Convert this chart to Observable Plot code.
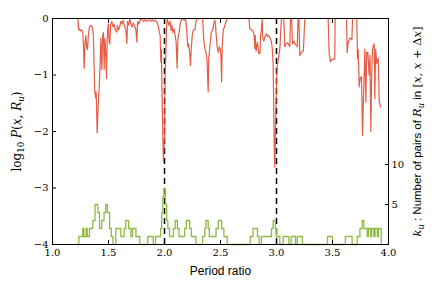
<!DOCTYPE html>
<html><head><meta charset="utf-8">
<script src="https://cdn.jsdelivr.net/npm/d3@7"></script>
<script src="https://cdn.jsdelivr.net/npm/@observablehq/plot@0.6"></script>
<style>body{margin:0;background:#fff}</style>
</head><body><div id="chart"></div>
<script>
// log10 P(x, R_u) curve
const redX = [1.228,1.232,1.24,1.25,1.26,1.27,1.275,1.283,1.29,1.298,1.305,1.313,1.32,1.33,1.342,1.355,1.365,1.372,1.378,1.385,1.39,1.395,1.399,1.405,1.411,1.418,1.425,1.432,1.44,1.448,1.455,1.461,1.468,1.475,1.482,1.488,1.495,1.50,1.505,1.512,1.52,1.53,1.54,1.55,1.56,1.574,1.58,1.59,1.60,1.61,1.62,1.63,1.64,1.655,1.664,1.67,1.68,1.69,1.70,1.71,1.72,1.73,1.745,1.753,1.76,1.77,1.78,1.79,1.80,1.815,1.827,1.84,1.86,1.875,1.89,1.905,1.92,1.935,1.946,1.955,1.961,1.967,1.972,1.978,1.982,1.986,1.991,1.995,2.0,2.003,2.006,2.012,2.018,2.024,2.03,2.04,2.05,2.06,2.065,2.075,2.085,2.095,2.104,2.113,2.12,2.13,2.14,2.149,2.16,2.175,2.19,2.2,2.208,2.215,2.225,2.232,2.24,2.25,2.26,2.272,2.283,2.30,2.34,2.351,2.36,2.37,2.38,2.39,2.395,2.405,2.417,2.43,2.446,2.455,2.46,2.47,2.48,2.49,2.50,2.505,2.51,2.515,2.525,2.535,2.545,2.56,2.753,2.762,2.775,2.79,2.80,2.807,2.81,2.818,2.83,2.842,2.852,2.858,2.865,2.872,2.877,2.887,2.897,2.91,2.92,2.932,2.945,2.955,2.961,2.97,2.976,2.982,2.986,2.991,3.0,3.006,3.012,3.02,3.03,3.04,3.045,3.065,3.074,3.085,3.10,3.119,3.125,3.135,3.143,3.155,3.165,3.185,3.193,3.20,3.208,3.22,3.24,3.253,3.461,3.47,3.482,3.495,3.51,3.52,3.524,3.625,3.631,3.64,3.655,3.665,3.673,3.679,3.717,3.723,3.73,3.738,3.748,3.759,3.768,3.775,3.783,3.789,3.798,3.805,3.815,3.827,3.835,3.842,3.85,3.857,3.865,3.872,3.878,3.885,3.896,3.908,3.917,3.926,3.929];
const redY = [0,-0.2,-0.18,-0.22,-0.2,-0.25,-0.4,-0.88,-0.45,-0.3,-0.5,-0.55,-0.3,-0.15,-0.12,-0.15,-0.3,-0.9,-1.3,-1.4,-1.3,-1.7,-2.02,-1.7,-1.42,-1.2,-0.8,-0.35,-0.9,-0.3,-0.25,-0.9,-0.35,-0.6,-1.06,-0.4,-0.15,-0.1,-0.4,-0.45,-0.1,-0.05,-0.15,-0.1,-0.2,-0.24,-0.12,-0.2,-0.15,-0.05,-0.1,-0.03,-0.12,-0.2,-0.44,-0.05,-0.12,0,-0.1,-0.15,-0.08,-0.12,-0.2,-0.42,-0.05,-0.1,-0.05,0,-0.02,-0.05,-0.02,-0.05,-0.02,-0.05,-0.02,-0.05,-0.03,-0.08,-0.15,-0.25,-0.3,-0.77,-0.55,-1.3,-1.72,-2.19,-2.54,-2.3,-2.1,-1.5,-1.0,-0.6,-0.15,0,-0.05,-0.12,-0.05,-0.21,-0.12,-0.25,-0.18,-0.3,-0.42,-0.88,-0.35,-0.25,-0.1,-0.03,0,-0.03,-0.02,-0.25,-0.5,-0.45,-0.6,-0.83,-0.5,-0.25,-0.2,-0.2,-0.03,0,0,-0.38,-0.52,-0.6,-0.72,-1.3,-0.7,-0.5,-0.25,-0.2,-0.03,-0.08,-0.25,-0.5,-0.6,-0.5,-0.55,-0.75,-1.12,-0.5,-0.2,-0.15,-0.08,0,0,-0.18,-0.2,-0.22,-0.3,-0.53,-0.3,-0.58,-0.42,-0.62,-0.62,-0.3,-0.2,0,-0.35,-0.4,-0.32,-0.27,-0.32,-0.3,-0.35,-0.42,-0.5,-0.8,-1.72,-2.54,-2.63,-1.9,-1.12,-0.86,-0.77,-0.68,-0.53,-0.15,0,0,-0.5,-0.45,-0.43,-0.5,0,0,-0.45,-0.4,-0.45,-0.5,0,0,-0.66,-0.6,-0.57,0,0,-0.6,-0.77,-0.72,-0.72,-0.72,0,0,-0.6,-0.43,-0.35,-0.35,-0.38,0,0,-0.71,-0.55,-1.21,-1.05,-1.03,-2.07,-1.5,-1.0,-0.54,-1.48,-0.6,-0.6,-1.0,-0.65,-2.0,-1.0,-0.54,-0.48,-0.45,-1.42,-0.54,-0.8,-0.7,-1.45,-1.54,-1.57];

// k_u : number of pairs in [x, x+dx] (step starts)
const greenX = [1.22,1.235,1.27,1.28,1.30,1.31,1.33,1.36,1.38,1.405,1.42,1.44,1.46,1.475,1.49,1.51,1.525,1.54,1.565,1.61,1.64,1.655,1.68,1.70,1.715,1.745,1.78,1.85,1.90,1.92,1.965,1.975,1.985,1.995,2.008,2.02,2.03,2.045,2.08,2.095,2.115,2.13,2.18,2.195,2.225,2.24,2.28,2.34,2.36,2.37,2.39,2.40,2.46,2.48,2.51,2.53,2.56,2.765,2.79,2.83,2.845,2.865,2.955,2.97,2.99,3.0,3.03,3.06,3.11,3.13,3.17,3.185,3.23,3.455,3.50,3.615,3.675,3.72,3.745,3.765,3.78,3.81,3.82,3.84,3.85,3.87,3.88,3.90,3.91,3.935];
const greenCount = [0,1,2,1,2,1,2,3,5,4,2,3,4,5,4,2,1,0,2,1,2,3,2,1,2,1,0,1,0,1,2,4,6,7,5,3,2,1,2,3,2,1,2,3,2,1,0,1,2,3,2,1,2,3,2,1,0,1,2,1,0,1,2,3,2,1,0,1,0,1,0,1,0,1,0,1,0,1,2,3,2,1,2,1,2,1,2,1,2,0];

const xTicks = [1.0,1.5,2.0,2.5,3.0,3.5,4.0];
const yTicks = [0,-1,-2,-3,-4];
const rightTicks = [5,10];
const resonances = [2,3];
const countTop = 28.25; // right-axis value at top of frame

const red = redX.map((x,i)=>({x, y: redY[i]}));
const green = greenX.map((x,i)=>({x, c: greenCount[i]}));
const toLeft = c => -4 + c*4/countTop;
const serif = "DejaVu Serif";

const chart = Plot.plot({
  width: 436, height: 291,
  marginLeft: 52, marginRight: 48, marginTop: 18, marginBottom: 47,
  x: {domain:[1,4]},
  y: {domain:[-4,0]},
  style: {background:"white"},
  marks: [
    Plot.ruleX(resonances, {x: d=>d, stroke:"black", strokeWidth:1.5, strokeDasharray:"6,4"}),
    Plot.line(green, {x:"x", y: d=>toLeft(d.c), curve:"step-after", stroke:"#8EBA42", strokeWidth:1.3}),
    Plot.line(red, {x:"x", y:"y", stroke:"#E24A33", strokeWidth:1.2, strokeOpacity:0.9}),
    Plot.frame({stroke:"black", strokeWidth:1}),
    Plot.axisX(xTicks, {anchor:"bottom", tickSize:-4, tickPadding:8, tickFormat:d3.format(".1f"), fontFamily:serif, fontSize:10, label:null, color:"black"}),
    Plot.axisX(xTicks, {anchor:"top", tickSize:-4, tickFormat:()=>"", label:null}),
    Plot.axisY(yTicks, {anchor:"left", tickSize:-4, tickPadding:8, tickFormat:d=>d===0?"0":"\u2212"+Math.abs(d), fontFamily:serif, fontSize:10, label:null}),
    Plot.axisY(rightTicks.map(toLeft), {anchor:"right", tickSize:-4, tickPadding:7, tickFormat:d=>String(Math.round((d+4)*countTop/4)), fontFamily:serif, fontSize:10, label:null}),
    Plot.text(["Period ratio"], {frameAnchor:"bottom", dy:30, fontFamily:"Liberation Sans", fontSize:12, fill:"black", textAnchor:"middle"}),
    Plot.text(["LEFTLABEL"], {frameAnchor:"left", rotate:-90, dx:-35, fontFamily:serif, fontSize:12, fill:"black", textAnchor:"middle"}),
    Plot.text(["RIGHTLABEL"], {frameAnchor:"right", rotate:-90, dx:29, fontFamily:"Liberation Sans", fontSize:11.5, fill:"black", textAnchor:"middle"})
  ]
});
document.getElementById("chart").appendChild(chart);

function rich(textEl, parts){
  const t = d3.select(textEl);
  t.text("");
  let shift = 0;
  for (const p of parts){
    const s = t.append("tspan").text(p.t);
    if (p.i) s.attr("font-style","italic");
    if (p.f) s.attr("font-family", p.f);
    const target = p.sub ? 3 : 0;
    if (p.sub) s.attr("font-size", "0.72em");
    if (target !== shift){ s.attr("dy", target - shift); shift = target; }
  }
}
d3.select(chart).selectAll("text").each(function(){
  const s = this.textContent;
  if (s === "LEFTLABEL") rich(this, [
    {t:"log"},{t:"10",sub:1},{t:" "},{t:"P",i:1},{t:"("},{t:"x",i:1},{t:", "},{t:"R",i:1},{t:"u",i:1,sub:1},{t:")"}
  ]);
  if (s === "RIGHTLABEL") rich(this, [
    {t:"k",i:1,f:serif},{t:"u",i:1,sub:1,f:serif},{t:" : Number of pairs of "},{t:"R",i:1,f:serif},{t:"u",i:1,sub:1,f:serif},{t:" in "},
    {t:"[",f:serif},{t:"x",i:1,f:serif},{t:", ",f:serif},{t:"x",i:1,f:serif},{t:" + \u0394",f:serif},{t:"x",i:1,f:serif},{t:"]",f:serif}
  ]);
});
</script></body></html>
